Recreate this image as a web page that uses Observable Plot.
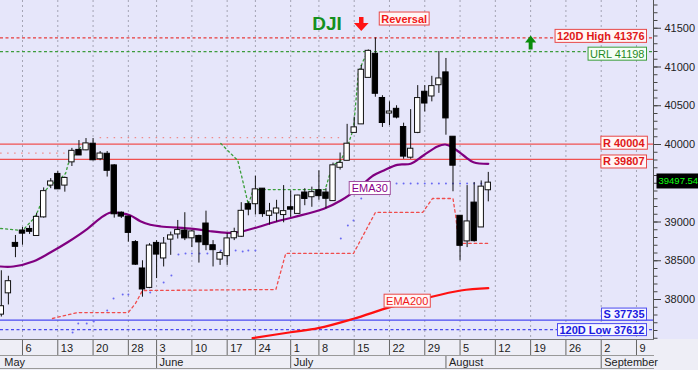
<!DOCTYPE html>
<html>
<head>
<meta charset="utf-8">
<script src="https://cdn.jsdelivr.net/npm/d3@7"></script>
<script src="https://cdn.jsdelivr.net/npm/@observablehq/plot@0.6"></script>
<style>
  html, body { margin: 0; padding: 0; background: #eeeef6; }
  #chart { width: 698px; height: 370px; overflow: hidden; }
  #chart svg { display: block; }
</style>
</head>
<body>
<div id="chart"></div>
<script>
// ---------- DATA ----------
// trading days shown (index of first = -3, May 6 = 0)
const firstIndex = -3;
const dates = [
  "May 1","May 2","May 3","May 6","May 7","May 8","May 9","May 10","May 13","May 14","May 15","May 16","May 17",
  "May 20","May 21","May 22","May 23","May 24","May 28","May 29","May 30","May 31",
  "Jun 3","Jun 4","Jun 5","Jun 6","Jun 7","Jun 10","Jun 11","Jun 12","Jun 13","Jun 14","Jun 17","Jun 18","Jun 20","Jun 21",
  "Jun 24","Jun 25","Jun 26","Jun 27","Jun 28",
  "Jul 1","Jul 2","Jul 3","Jul 5","Jul 8","Jul 9","Jul 10","Jul 11","Jul 12","Jul 15","Jul 16","Jul 17","Jul 18","Jul 19",
  "Jul 22","Jul 23","Jul 24","Jul 25","Jul 26","Jul 29","Jul 30","Jul 31",
  "Aug 1","Aug 2","Aug 5","Aug 6","Aug 7","Aug 8","Aug 9"
];
const open = [37815,38090,38720,38880,38900,38830,39070,39480,39610,39480,39780,39920,39935,
  40000,39820,39870,39720,39110,39060,38730,38390,38160,
  38720,38540,38783,38850,38880,38800,38810,38970,38690,38525,38570,38800,38820,39220,
  39240,39420,39090,39120,39100,
  39180,39115,39370,39330,39400,39370,39280,39710,39800,40160,40270,40870,41160,40590,
  40410,40450,40215,39840,40160,40670,40630,40775,
  40920,40090,39070,38760,39240,38940,39420];
const high = [38371,38300,38826,38930,38950,39110,39440,39560,39650,39580,39950,40051,40077,
  40077,39910,39910,39740,39130,39070,38760,38500,38720,
  38760,38800,38870,39020,39120,38890,38830,39140,38760,38620,38850,38920,39250,39260,
  39590,39430,39240,39280,39470,
  39400,39345,39430,39450,39660,39430,39760,39890,40260,40350,41020,41220,41376,40630,
  40550,40500,40275,40450,40760,40760,40880,41200,
  41110,40100,39080,39470,39510,39530,39640];
const low = [37774,37930,38540,38700,38840,38817,39050,39430,39420,39385,39716,39860,39920,
  39790,39790,39580,39050,39045,38740,38440,38030,38140,
  38270,38420,38570,38780,38760,38670,38470,38630,38420,38440,38440,38760,38800,39080,
  39090,39060,38960,39000,38990,
  39060,39110,39210,39190,39280,39170,39270,39670,39790,40150,40260,40860,40610,40220,
  40245,40330,39810,39810,40140,40420,40550,40660,
  40120,39390,38500,38670,38740,38930,39260];
const close = [37903,38226,38690,38860,38884,39056,39388,39513,39432,39558,39908,39869,40004,
  39807,39873,39671,39110,39080,38870,38460,38140,38686,
  38590,38711,38817,38886,38799,38868,38747,38712,38647,38589,38778,38860,39134,39170,
  39411,39112,39127,39164,39130,
  39169,39331,39308,39375,39344,39310,39721,39753,40000,40211,40954,41198,40665,40288,
  40415,40358,39854,39935,40589,40539,40743,40842,
  40347,39737,38703,38997,38763,39446,39497.54];

// EMA30 (purple): trading-day index, value
const ema30Idx = [-3.1,-1.3,1.6,4.0,6.4,9.2,11.1,12.5,13.9,15.3,16.7,18.1,19.6,24.2,26.6,29.0,30.5,33.3,35.6,38.4,42.7,45.1,47.5,49.7,51.2,53.1,55.0,56.8,58.8,59.9,60.9,62.5,63.9,66.0];
const ema30Val = [38426,38426,38494,38610,38739,38912,39054,39123,39114,39084,39010,38964,38942,38912,38881,38861,38868,38933,38997,39062,39170,39277,39428,39600,39665,39738,39751,39858,39974,40000,39965,39858,39772,39751];

// EMA200 (red)
const ema200Idx = [32.6,38.0,41.9,46.9,52.1,56.8,62.1,66.0];
const ema200Val = [37501,37578,37630,37751,37901,38010,38116,38146];

// green dotted trailing line (two runs)
const greenIdx = [-3.1,0,1.6,2.3,3.0,4.0,5.1,6.1,6.5,7.1,8.2, 28.1,29.5,30.5,31.2,32.0,32.7,42.9,43.9,45.1,46.1,46.9,47.6,48.3,48.9];
const greenVal = [38916,38890,39045,39161,39381,39484,39535,39626,39755,39832,39961, 40013,39884,39794,39535,39226,39419,39419,39729,39794,39987,40206,40929,41084,41198];
const greenRun = [0,0,0,0,0,0,0,0,0,0,0, 1,1,1,1,1,1,1,1,1,1,1,1,1,1];

// red dotted stepped trailing line
const redIdx = [4.25,7.8,15.0,16.0,17.0,35.9,37.3,46.9,50.0,56.7,58.1,61.0,61.4,61.8,65.9];
const redVal = [37755,37832,37832,37948,38116,38129,38594,38594,39123,39123,39303,39303,39067,38723,38723];

// blue dots
const blueIdx = [7.1,7.9,9.1,10.1,12.0,12.9,14.2,15.0,18.1,20.0,21.1,22.1,23.1,24.0,25.1,26.2,28.1,29.0,30.2,31.2,32.0,33.0,45.1,46.1,46.9,48.0,52,53,54,55,56,57,58,59,60,61,62,63,64,65];
const blueVal = [37574,37690,37690,37716,37858,38013,38065,38065,38090,38219,38310,38581,38594,38594,38594,38594,38632,38632,38632,38619,38632,38632,38787,38955,39019,39303,39497,39497,39497,39497,39497,39497,39497,39497,39497,39497,39497,39497,39497,39497];

// faint red dotted runs
const pinkVal = [39888, 40090];
const pinkFrom = [-3.1, 11.0];
const pinkTo = [6.5, 45.1];

// horizontal levels
const levelNames = ["120D High", "URL", "R", "R", "S", "120D Low"];
const levelValues = [41376, 41198, 40004, 39807, 37735, 37612];

// signals
const signalIdx = [48, 72];
const signalDir = ["down", "up"];
const signalText = ["Reversal", ""];

// axis ticks (39500 is hidden behind the last-price box)
const yTicks = [38000, 38500, 39000, 40000, 40500, 41000, 41500];
const tickIdx = [0,5,10,15,19,24,29,33,38,42,47,52,57,62,67,72,77,82,87];
const tickLabels = ["6","13","20","28","3","10","17","24","1","8","15","22","29","5","12","19","26","2","9"];
const monthIdx = [-3,19,38,60,82];
const monthNames = ["May","June","July","August","September"];

// ---------- TABLES ----------
const candles = dates.map((d, k) => ({date: d, i: k + firstIndex, open: open[k], high: high[k], low: low[k], close: close[k]}));
const up = candles.filter(d => d.close >= d.open);
const down = candles.filter(d => d.close < d.open);
const last = candles[candles.length - 1];
const ema30 = ema30Idx.map((i, k) => ({i, v: ema30Val[k]}));
const ema200 = ema200Idx.map((i, k) => ({i, v: ema200Val[k]}));
const green = greenIdx.map((i, k) => ({i, v: greenVal[k], run: greenRun[k]}));
const redTrail = redIdx.map((i, k) => ({i, v: redVal[k]}));
const blue = blueIdx.map((i, k) => ({i, v: blueVal[k]}));
const pink = pinkVal.map((v, k) => ({v, i1: pinkFrom[k], i2: pinkTo[k]}));
const levels = levelNames.map((n, k) => ({name: n, v: levelValues[k], label: `${n} ${levelValues[k]}`}));
const days = tickIdx.map((i, k) => ({i, label: tickLabels[k]}));
const months = monthIdx.map((i, k) => ({i, name: monthNames[k]}));
const signals = signalIdx.map((i, k) => ({i, dir: signalDir[k], text: signalText[k]}));

// ---------- STYLES ----------
const levelStyle = [
  {color: "#e83c3c", dash: "3,2.5", box: "lab-red",   text: "#e01818", weight: "bold",   dy: -1.5},
  {color: "#3c9c3c", dash: "3,2.5", box: "lab-green", text: "#1f8a1f", weight: "normal", dy: 2.5},
  {color: "#f05050", dash: null,    box: "lab-red",   text: "#e01818", weight: "bold",   dy: -1},
  {color: "#f05050", dash: null,    box: "lab-red",   text: "#e01818", weight: "bold",   dy: 2.5},
  {color: "#4a4af0", dash: null,    box: "lab-blue",  text: "#1a1ae0", weight: "bold",   dy: -5.5},
  {color: "#4a4af0", dash: "3,2.5", box: "lab-blue",  text: "#1a1ae0", weight: "bold",   dy: 0.5}
];
const arrowDown = {draw(ctx, size) {
  const r = Math.sqrt(size / Math.PI);
  ctx.moveTo(-0.32 * r, -r); ctx.lineTo(0.32 * r, -r); ctx.lineTo(0.32 * r, -0.15 * r);
  ctx.lineTo(1.05 * r, -0.15 * r); ctx.lineTo(0, r); ctx.lineTo(-1.05 * r, -0.15 * r);
  ctx.lineTo(-0.32 * r, -0.15 * r); ctx.closePath();
}};
const arrowUp = {draw(ctx, size) {
  const r = Math.sqrt(size / Math.PI);
  ctx.moveTo(0, -r); ctx.lineTo(0.8 * r, 0); ctx.lineTo(0.28 * r, 0); ctx.lineTo(0.28 * r, r);
  ctx.lineTo(-0.28 * r, r); ctx.lineTo(-0.28 * r, 0); ctx.lineTo(-0.8 * r, 0); ctx.closePath();
}};

const levelMarks = levels.map((d, k) => {
  const s = levelStyle[k];
  return Plot.ruleY([d], {y: "v", stroke: s.color, strokeWidth: s.dash ? 1.1 : 1.2, strokeDasharray: s.dash});
});
const levelLabelMarks = levels.map((d, k) => {
  const s = levelStyle[k];
  return Plot.text([d], {y: "v", text: "label", frameAnchor: "right", dx: -9, dy: s.dy, textAnchor: "end",
    lineAnchor: "middle", fill: s.text, fontWeight: s.weight, fontSize: 11, ariaLabel: () => s.box});
});

const chart = Plot.plot({
  width: 698,
  height: 370,
  marginLeft: 0,
  marginRight: 45,
  marginTop: 0,
  marginBottom: 31,
  x: {type: "linear", domain: [-3.117, 89.41]},
  y: {domain: [37484, 41858]},
  style: "background: linear-gradient(#e6e6fa 0px, #e6e6fa 339px, #eeeef6 339px); font-family: 'Liberation Sans', Arial, sans-serif; font-size: 11px; color: #222; overflow: hidden;",
  marks: [
    Plot.gridX(tickIdx, {stroke: "#a4a4b4", strokeOpacity: 1, strokeDasharray: "2,3"}),
    Plot.ruleY(pink, {y: "v", x1: "i1", x2: "i2", stroke: "#f08c8c", strokeDasharray: "1.5,5.5", strokeWidth: 1.2}),
    ...levelMarks,
    Plot.line(green, {x: "i", y: "v", z: "run", stroke: "#3a9e3a", strokeWidth: 1.3, strokeDasharray: "2,3", clip: true}),
    Plot.line(redTrail, {x: "i", y: "v", stroke: "#f04c4c", strokeWidth: 1.3, strokeDasharray: "2.5,3", clip: true}),
    Plot.dot(blue, {x: "i", y: "v", r: 1, fill: "#6a6af2", stroke: null}),
    Plot.line(ema30, {x: "i", y: "v", stroke: "#800080", strokeWidth: 2.2, curve: "catmull-rom", clip: true}),
    Plot.line(ema200, {x: "i", y: "v", stroke: "#ff1010", strokeWidth: 2.2, curve: "catmull-rom", clip: true}),
    // candles
    Plot.ruleX(candles, {x: "i", y1: "low", y2: "high", stroke: "#111", strokeWidth: 1, clip: true}),
    Plot.rect(up, {x1: d => d.i - 0.38, x2: d => d.i + 0.38, y1: "open", y2: "close", fill: "#ffffff", stroke: "#111", strokeWidth: 1, insetTop: -0.8, insetBottom: -0.8}),
    Plot.rect(down, {x1: d => d.i - 0.38, x2: d => d.i + 0.38, y1: "open", y2: "close", fill: "#000000", stroke: "#000", strokeWidth: 1, insetTop: -0.8, insetBottom: -0.8}),
    // line labels
    Plot.text([ema30[23]], {x: "i", y: "v", text: () => "EMA30", dx: -3.5, dy: 13, fill: "#8a008a", fontSize: 11, lineAnchor: "middle", ariaLabel: () => "lab-purple"}),
    Plot.text([ema200[4]], {x: "i", y: "v", text: () => "EMA200", dx: 17, dy: -6, fill: "#f01818", fontSize: 11, lineAnchor: "middle", ariaLabel: () => "lab-red"}),
    ...levelLabelMarks,
    // title & signals
    Plot.text(["DJI"], {text: d => d, frameAnchor: "top", dy: 23.5, fontSize: 19, fontWeight: "bold", fill: "#14901e", lineAnchor: "middle"}),
    Plot.dot(signals.filter(d => d.dir === "down"), {x: "i", frameAnchor: "top", dy: 23.5, r: 7, symbol: arrowDown, fill: "#ff1414", stroke: null}),
    Plot.dot(signals.filter(d => d.dir === "up"), {x: "i", frameAnchor: "top", dy: 42, r: 7, symbol: arrowUp, fill: "#0a8c0a", stroke: null}),
    Plot.text(signals.filter(d => d.text), {x: "i", text: "text", frameAnchor: "top", dx: 20, dy: 18.5, textAnchor: "start", lineAnchor: "middle", fill: "#f01818", fontWeight: "bold", fontSize: 11, ariaLabel: () => "lab-red"}),
    // right axis
    Plot.axisY(yTicks, {anchor: "right", tickSize: 7, tickPadding: 4, tickFormat: d => String(d), label: null, fontSize: 11, fill: "#222", stroke: "#444"}),
    Plot.axisY(d3.range(37500, 41900, 100), {anchor: "right", tickSize: 3.5, tickFormat: () => "", label: null, stroke: "#444"}),
    Plot.frame({anchor: "right", stroke: "#555"}),
    Plot.text([last], {y: "close", text: d => d.close.toFixed(2), frameAnchor: "right", dx: 5, textAnchor: "start", lineAnchor: "middle", dy: -2, fill: "#10ff10", fontSize: 9.5, ariaLabel: () => "lab-price"}),
    // date axis
    Plot.axisX(tickIdx, {tickSize: 16, tickFormat: () => "", label: null, stroke: "#666"}),
    Plot.axisX(monthIdx.slice(1), {tickSize: 13, dy: 16, tickFormat: () => "", label: null, stroke: "#666"}),
    Plot.frame({anchor: "bottom", stroke: "#777"}),
    Plot.frame({anchor: "bottom", dy: 16, stroke: "#999"}),
    Plot.frame({anchor: "bottom", dy: 29, stroke: "#999"}),
    Plot.text(days, {x: "i", text: "label", frameAnchor: "bottom", dx: 3, dy: 8.5, textAnchor: "start", lineAnchor: "middle", fill: "#222", fontSize: 11}),
    Plot.text(months, {x: "i", text: "name", frameAnchor: "bottom", dx: 3, dy: 22.5, textAnchor: "start", lineAnchor: "middle", fill: "#222", fontSize: 11})
  ]
});

document.getElementById("chart").append(chart);

// boxes behind label texts
const boxStyles = {
  "lab-red":    {fill: "#fff6f6", stroke: "#e84848", px: 2, py: 0.5},
  "lab-green":  {fill: "#f6fff6", stroke: "#3a9e3a", px: 2, py: 0.5},
  "lab-blue":   {fill: "#f6f6ff", stroke: "#4a4af0", px: 2, py: 0},
  "lab-purple": {fill: "#ffffff", stroke: "#a050a0", px: 2.5, py: 0.5},
  "lab-price":  {fill: "#000000", stroke: "none", px: 2, py: 2}
};
for (const [name, s] of Object.entries(boxStyles)) {
  chart.querySelectorAll(`text[aria-label="${name}"]`).forEach(t => {
    const b = t.getBBox();
    const r = document.createElementNS("http://www.w3.org/2000/svg", "rect");
    r.setAttribute("x", b.x - s.px);
    r.setAttribute("y", b.y - s.py);
    r.setAttribute("width", b.width + 2 * s.px);
    r.setAttribute("height", b.height + 2 * s.py);
    r.setAttribute("fill", s.fill);
    r.setAttribute("stroke", s.stroke);
    r.setAttribute("stroke-width", 1);
    const tr = t.getAttribute("transform");
    if (tr) r.setAttribute("transform", tr);
    t.parentNode.insertBefore(r, t);
  });
}
</script>
</body>
</html>
